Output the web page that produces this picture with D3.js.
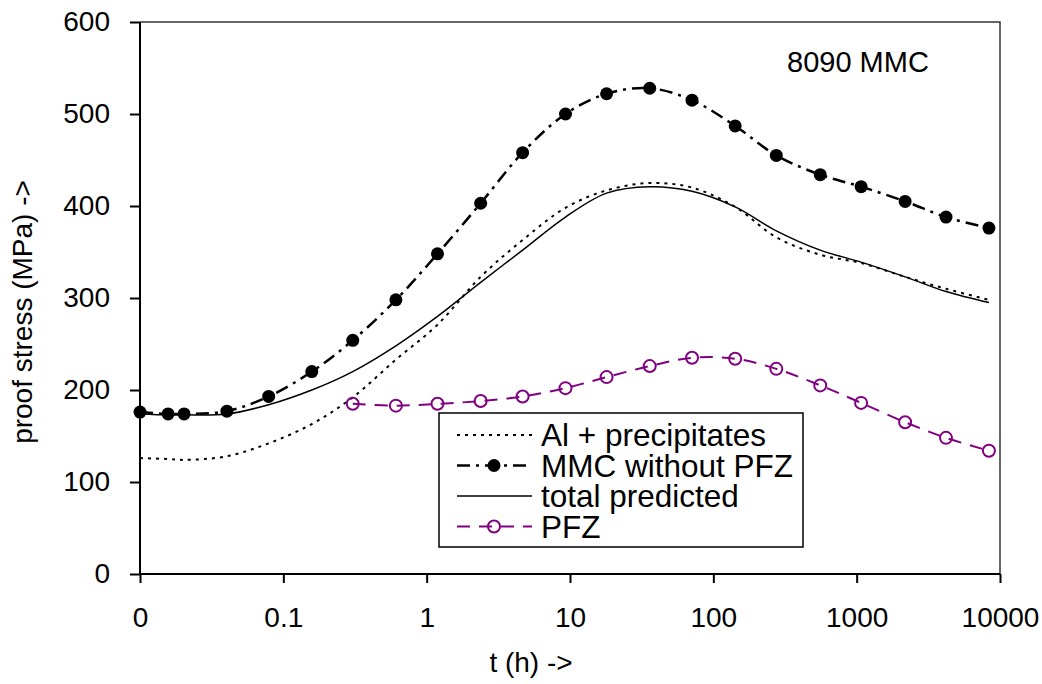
<!DOCTYPE html>
<html>
<head>
<meta charset="utf-8">
<script src="https://cdn.jsdelivr.net/npm/d3@7"></script>
<style>
  body { margin: 0; background: #fff; }
  svg text { font-family: "Liberation Sans", Arial, sans-serif; fill: #000; }
  .axis path, .axis line { stroke: #000; stroke-width: 2; }
</style>
</head>
<body>
<div id="chart"></div>
<script>
// ageing time (h); the first point is t = 0, drawn at the "0" position (0.01)
var times = [0.01, 0.0157, 0.0203, 0.0404, 0.079, 0.158, 0.305, 0.61, 1.19, 2.38, 4.67,
             9.3, 18, 36, 71, 142, 275, 557, 1074, 2178, 4200, 8370];

var alPrecip = [126, 125, 124, 128, 142, 163, 192, 233, 271, 323, 363,
                398, 417, 425, 420, 399, 366, 347, 338, 323, 310, 298];
var mmcNoPfz = [176, 174, 174, 177, 193, 220, 254, 298, 348, 403, 458,
                500, 522, 528, 515, 487, 455, 434, 421, 405, 388, 376];
var totalPred = [174, 173, 173, 174, 184, 200, 220, 248, 280, 317, 352,
                 388, 414, 421, 416, 399, 373, 352, 339, 323, 307, 295];
// PFZ starts at the 7th time point
var pfzTimes = times.slice(6);
var pfz = [185, 183, 185, 188, 193, 202, 214, 226, 235, 234, 223, 205, 186, 165, 148, 134];

var xTicks = [0.01, 0.1, 1, 10, 100, 1000, 10000];
var yTicks = [0, 100, 200, 300, 400, 500, 600];
var legendNames = ["Al + precipitates", "MMC without PFZ", "total predicted", "PFZ"];

var margin = { top: 22, right: 42, bottom: 110, left: 140 },
    width = 1042 - margin.left - margin.right,
    height = 684 - margin.top - margin.bottom;

var svg = d3.select("#chart").append("svg")
    .attr("width", 1042)
    .attr("height", 684)
    .append("g")
    .attr("transform", "translate(" + margin.left + "," + margin.top + ")");

var x = d3.scaleLog().domain([0.01, 10000]).range([0, width]);
var y = d3.scaleLinear().domain([0, 600]).range([height, 0]);

// top / right frame
svg.append("path")
    .attr("d", "M0,0H" + width + "V" + height)
    .attr("fill", "none")
    .attr("stroke", "#333")
    .attr("stroke-width", 1.5);

var xAxis = d3.axisBottom(x)
    .tickValues(xTicks)
    .tickSize(9)
    .tickPadding(24)
    .tickFormat(function(d) { return d < 0.05 ? "0" : d3.format("~g")(d); });

var yAxis = d3.axisLeft(y)
    .tickValues(yTicks)
    .tickSize(10)
    .tickPadding(20);

svg.append("g")
    .attr("class", "axis xaxis")
    .attr("transform", "translate(0," + height + ")")
    .call(xAxis)
    .call(function(g) { g.select(".domain").attr("d", "M0,0H" + width); })
    .selectAll("text").style("font-size", "28px");

svg.append("g")
    .attr("class", "axis yaxis")
    .call(yAxis)
    .call(function(g) { g.select(".domain").attr("d", "M0,0V" + height); })
    .selectAll("text").style("font-size", "28px");

// axis titles
svg.append("text")
    .attr("x", 531 - margin.left)
    .attr("y", 672 - margin.top)
    .attr("text-anchor", "middle")
    .style("font-size", "28px")
    .text("t (h) ->");

svg.append("text")
    .attr("transform", "translate(" + (32 - margin.left) + "," + (312 - margin.top) + ") rotate(-90)")
    .attr("text-anchor", "middle")
    .style("font-size", "28px")
    .text("proof stress (MPa) ->");

svg.append("text")
    .attr("x", 787 - margin.left)
    .attr("y", 72 - margin.top)
    .style("font-size", "29px")
    .text("8090 MMC");

var line = d3.line()
    .x(function(d) { return x(d[0]); })
    .y(function(d) { return y(d[1]); })
    .curve(d3.curveCatmullRom);

var styles = [
  { color: "#000", width: 2, dash: "3,5" },
  { color: "#000", width: 2.5, dash: "13,6,3,6" },
  { color: "#000", width: 1.5, dash: null },
  { color: "#800080", width: 2, dash: "13,9" }
];

var seriesData = [
  d3.zip(times, alPrecip),
  d3.zip(times, mmcNoPfz),
  d3.zip(times, totalPred),
  d3.zip(pfzTimes, pfz)
];

seriesData.forEach(function(data, i) {
  svg.append("path")
      .datum(data)
      .attr("fill", "none")
      .attr("stroke", styles[i].color)
      .attr("stroke-width", styles[i].width)
      .attr("stroke-dasharray", styles[i].dash)
      .attr("d", line);
});

svg.append("g").selectAll("circle")
    .data(seriesData[1])
    .enter().append("circle")
    .attr("cx", function(d) { return x(d[0]); })
    .attr("cy", function(d) { return y(d[1]); })
    .attr("r", 6.5)
    .attr("fill", "#000");

svg.append("g").selectAll("circle")
    .data(seriesData[3])
    .enter().append("circle")
    .attr("cx", function(d) { return x(d[0]); })
    .attr("cy", function(d) { return y(d[1]); })
    .attr("r", 6)
    .attr("fill", "none")
    .attr("stroke", "#800080")
    .attr("stroke-width", 2);

// legend
var legend = svg.append("g")
    .attr("transform", "translate(" + (439 - margin.left) + "," + (413 - margin.top) + ")");

legend.append("rect")
    .attr("width", 364)
    .attr("height", 134)
    .attr("fill", "#fff")
    .attr("stroke", "#000")
    .attr("stroke-width", 1.5);

var rows = legend.selectAll(".row")
    .data(legendNames)
    .enter().append("g")
    .attr("class", "row")
    .attr("transform", function(d, i) { return "translate(0," + (22 + i * 30.5) + ")"; });

rows.append("line")
    .attr("x1", 18).attr("x2", 93)
    .attr("stroke", function(d, i) { return styles[i].color; })
    .attr("stroke-width", function(d, i) { return styles[i].width; })
    .attr("stroke-dasharray", function(d, i) { return styles[i].dash; });

rows.filter(function(d, i) { return i === 1; }).append("circle")
    .attr("cx", 55).attr("r", 6.5).attr("fill", "#000");
rows.filter(function(d, i) { return i === 3; }).append("circle")
    .attr("cx", 55).attr("r", 6).attr("fill", "none")
    .attr("stroke", "#800080").attr("stroke-width", 2);

rows.append("text")
    .attr("x", 102)
    .attr("dy", "0.35em")
    .style("font-size", "31.5px")
    .text(function(d) { return d; });
</script>
</body>
</html>
